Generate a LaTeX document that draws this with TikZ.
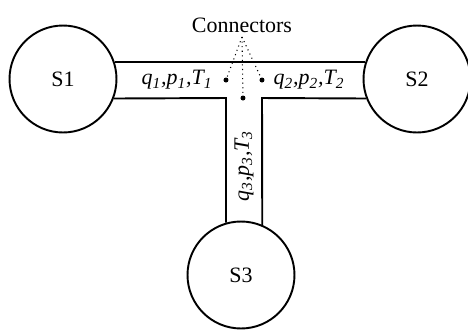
\documentclass[tikz,border=0pt]{standalone}
\usepackage{fontspec}
\setmainfont{Liberation Serif}
\usetikzlibrary{positioning,calc}

\newcommand{\qpt}[1]{\textit{q\textsubscript{#1},p\textsubscript{#1},T\textsubscript{#1}}}

\tikzset{
  station/.style={draw, circle, line width=1.1pt, minimum size=2.14cm, inner sep=0pt},
  pipe/.style={line width=1.1pt},
  port/.style={circle, fill=black, inner sep=0pt, minimum size=0.1cm},
  probe/.style={dotted, line width=0.6pt}
}

\begin{document}
\begin{tikzpicture}[x=0.02cm, y=-0.02cm, font=\fontsize{12.5}{15}\selectfont]
  \useasboundingbox (0,0) rectangle (468,329);

  \node[station] at (63, 79)  (s_1) {S1};
  \node[station] at (417, 79) (s_2) {S2};
  \node[station] at (241, 275) (s_3) {S3};

  \coordinate (c_l) at (226, 98);
  \coordinate (c_r) at (262, 98);

  % pipe walls
  \draw[pipe] (s_1.18) -- (s_2.162);
  \draw[pipe] (s_1.-21) -- (c_l) -- (s_3.106);
  \draw[pipe] (s_2.201) -- (c_r) -- (s_3.67);

  \node at (177, 80) (l_1) {\qpt{1}};
  \node at (309, 80) (l_2) {\qpt{2}};
  \node[rotate=90] at (244, 166) (l_3) {\qpt{3}};

  \node[port] at (226, 80) (d_1) {};
  \node[port] at (262, 80) (d_2) {};
  \node[port] at (243, 98) (d_3) {};

  \node[above, inner sep=2pt] at (242, 37) (c_0) {Connectors};

  \draw[probe] (c_0.south) -- (d_1);
  \draw[probe] (c_0.south) -- (d_2);
  \draw[probe] (c_0.south) -- (d_3);

\end{tikzpicture}
\end{document}
